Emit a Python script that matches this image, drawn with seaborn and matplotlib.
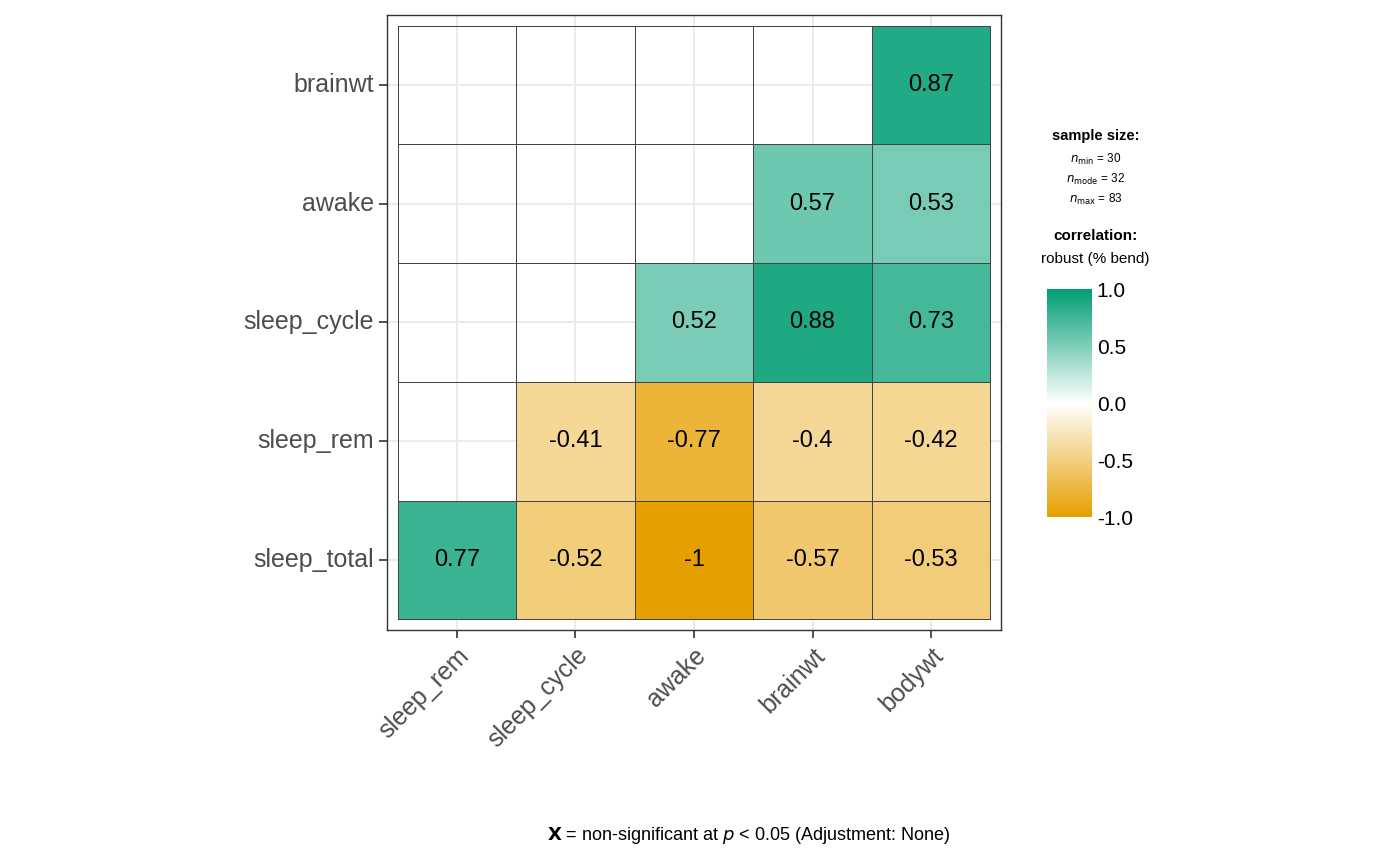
import numpy as np
import pandas as pd
import seaborn as sns
import matplotlib.pyplot as plt
from matplotlib.colors import LinearSegmentedColormap

rows = ["brainwt", "awake", "sleep_cycle", "sleep_rem", "sleep_total"]
cols = ["sleep_rem", "sleep_cycle", "awake", "brainwt", "bodywt"]
r_brainwt = [np.nan, np.nan, np.nan, np.nan, 0.87]
r_awake = [np.nan, np.nan, np.nan, 0.57, 0.53]
r_sleep_cycle = [np.nan, np.nan, 0.52, 0.88, 0.73]
r_sleep_rem = [np.nan, -0.41, -0.77, -0.4, -0.42]
r_sleep_total = [0.77, -0.52, -1, -0.57, -0.53]
df = pd.DataFrame([r_brainwt, r_awake, r_sleep_cycle, r_sleep_rem, r_sleep_total], index=rows, columns=cols)
labels = df.map(lambda v: "" if np.isnan(v) else f"{v:g}")

plt.rcParams['font.family'] = ['Arial', 'Liberation Sans', 'DejaVu Sans']
cmap = LinearSegmentedColormap.from_list("c", ["#E69F00", "#FFFFFF", "#009E73"])

fig = plt.figure(figsize=(14, 8.66), dpi=100)
ax = fig.add_axes([0.2764, 0.2725, 0.4386, 0.7102])
cax = fig.add_axes([0.748, 0.403, 0.032, 0.263])
ax.set_axisbelow(True)
ax.grid(True, color="#ebebeb", linewidth=1.5, zorder=0)
sns.heatmap(df, ax=ax, cmap=cmap, vmin=-1, vmax=1, annot=labels, fmt="",
            annot_kws={"fontsize": 17, "color": "black"}, linewidths=0.5,
            linecolor="#444444", cbar_ax=cax, square=False)
ax.set_xlim(-0.09, 5.09)
ax.set_ylim(5.09, -0.09)
ax.set_xlabel(""); ax.set_ylabel("")
for s in ax.spines.values():
    s.set_visible(True); s.set_color("#333333"); s.set_linewidth(1)
ax.set_xticklabels(cols, rotation=45, ha="right", rotation_mode="anchor", fontsize=18, color="#4d4d4d")
ax.set_yticklabels(rows, rotation=0, fontsize=18, color="#4d4d4d")
ax.tick_params(length=6, width=1.2, color="#333333")
ax.grid(True, color="#ebebeb", linewidth=1.5)

cax.set_yticks([-1, -0.5, 0, 0.5, 1])
cax.set_yticklabels(["-1.0", "-0.5", "0.0", "0.5", "1.0"], fontsize=15)
cax.tick_params(length=0)
for s in cax.spines.values():
    s.set_visible(False)

fig.text(0.7825, 0.838, "sample size:", ha="center", fontsize=10.5, fontweight="bold")
fig.text(0.7825, 0.812, r"$n_{\mathrm{min}}$ = 30", ha="center", fontsize=8.5)
fig.text(0.7825, 0.789, r"$n_{\mathrm{mode}}$ = 32", ha="center", fontsize=8.5)
fig.text(0.7825, 0.766, r"$n_{\mathrm{max}}$ = 83", ha="center", fontsize=8.5)
fig.text(0.7825, 0.723, "correlation:", ha="center", fontsize=11, fontweight="bold")
fig.text(0.7825, 0.696, "robust (% bend)", ha="center", fontsize=11)
fig.text(0.535, 0.03, r"$\mathbf{X}$ = non-significant at $p$ < 0.05 (Adjustment: None)",
         ha="center", fontsize=13)
fig.savefig("out.png", dpi=100)
